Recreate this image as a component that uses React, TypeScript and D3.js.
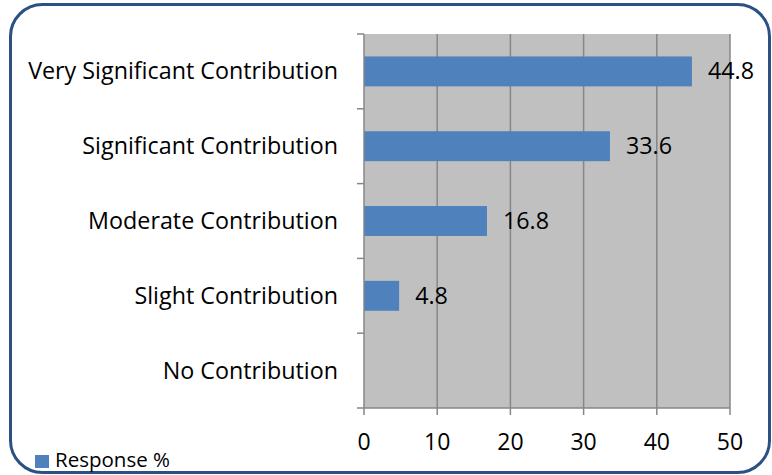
import React from "react";
import * as d3 from "d3";

const categories = [
  "Very Significant Contribution",
  "Significant Contribution",
  "Moderate Contribution",
  "Slight Contribution",
  "No Contribution",
];
const responsePct = [44.8, 33.6, 16.8, 4.8, 0];
const xTicks = [0, 10, 20, 30, 40, 50];
const seriesName = "Response %";

const W = 772;
const H = 475;
const plot = { left: 364, right: 730, top: 34, bottom: 408 };
const FONT = "'Open Sans', sans-serif";
const barColor = "#4F81BD";
const gridColor = "#878787";

export default function App() {
  const x = d3.scaleLinear().domain([0, 50]).range([plot.left, plot.right]);
  const y = d3
    .scaleBand<string>()
    .domain(categories)
    .range([plot.top, plot.bottom])
    .paddingInner(0.6)
    .paddingOuter(0.3);
  const band = d3.scaleBand<string>().domain(categories).range([plot.top, plot.bottom]);
  const step = band.step();

  return (
    <svg
      width={W}
      height={H}
      style={{ position: "absolute", left: 0, top: 0, background: "#fff" }}
      fontFamily={FONT}
    >
      <rect x={10.5} y={4.5} width={759} height={468} rx={32} ry={32} fill="#fff" stroke="#2A5084" strokeWidth={3} />
      <rect x={plot.left} y={plot.top} width={plot.right - plot.left} height={plot.bottom - plot.top} fill="#C0C0C0" />
      {xTicks.slice(1).map((t) => (
        <line key={"g" + t} x1={x(t)} x2={x(t)} y1={plot.top} y2={plot.bottom} stroke={gridColor} strokeWidth={1.5} />
      ))}
      {categories.map((c, i) => (
        <rect key={"b" + c} x={x(0)} y={y(c)!} width={x(responsePct[i]) - x(0)} height={y.bandwidth()} fill={barColor} />
      ))}
      <line x1={plot.left} x2={plot.left} y1={plot.top} y2={plot.bottom} stroke={gridColor} strokeWidth={1.5} />
      <line x1={plot.left - 7} x2={plot.right} y1={plot.bottom} y2={plot.bottom} stroke={gridColor} strokeWidth={1.5} />
      {d3.range(categories.length).map((i) => (
        <line key={"yt" + i} x1={plot.left - 7} x2={plot.left} y1={plot.top + i * step} y2={plot.top + i * step} stroke={gridColor} strokeWidth={1.5} />
      ))}
      {xTicks.map((t) => (
        <line key={"xt" + t} x1={x(t)} x2={x(t)} y1={plot.bottom} y2={plot.bottom + 7} stroke={gridColor} strokeWidth={1.5} />
      ))}
      {xTicks.map((t) => (
        <text key={"xl" + t} x={x(t)} y={450} textAnchor="middle" fontSize={23} fill="#000">
          {t}
        </text>
      ))}
      {categories.map((c) => (
        <text key={"cl" + c} x={338} y={band(c)! + step / 2 + 8} textAnchor="end" fontSize={23.3} fill="#000">
          {c}
        </text>
      ))}
      {categories.map((c, i) =>
        responsePct[i] > 0 ? (
          <text key={"dl" + c} x={x(responsePct[i]) + 16} y={band(c)! + step / 2 + 8} fontSize={23.3} fill="#000">
            {responsePct[i]}
          </text>
        ) : null
      )}
      <rect x={35} y={455} width={14} height={13} fill={barColor} />
      <text x={55} y={467} fontSize={20.5} fill="#000">
        {seriesName}
      </text>
    </svg>
  );
}
